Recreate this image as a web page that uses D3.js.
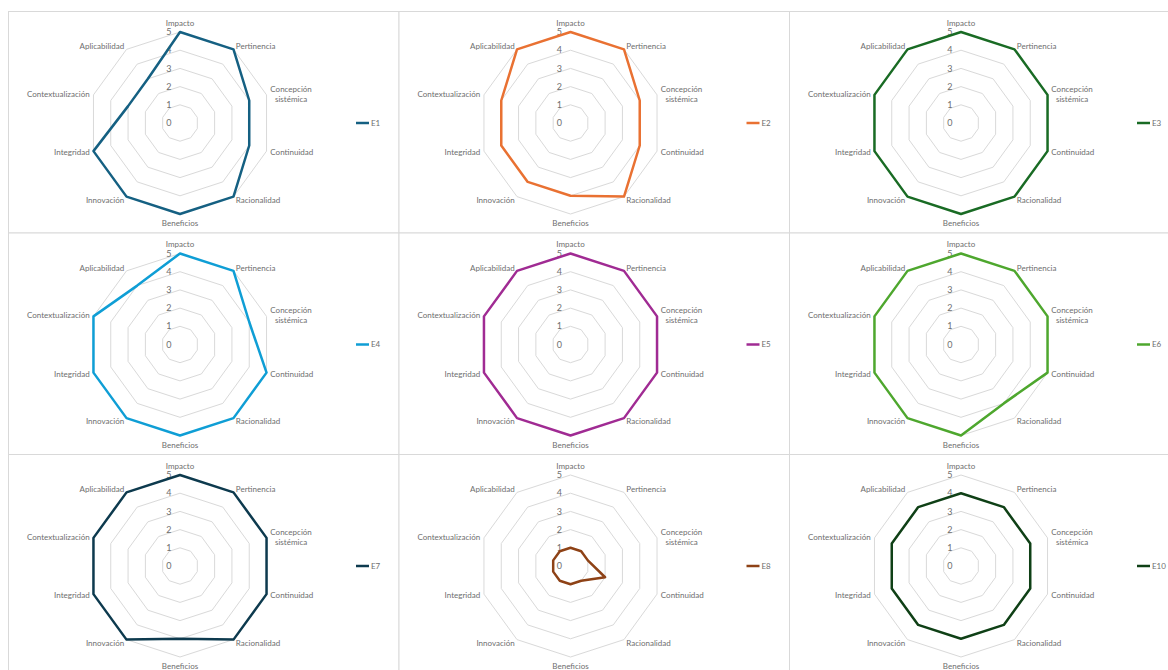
<!DOCTYPE html>
<html>
<head>
<meta charset="utf-8">
<script src="https://cdn.jsdelivr.net/npm/d3@7"></script>
<style>
  html, body { margin: 0; padding: 0; background: #ffffff; }
  svg { display: block; }
</style>
</head>
<body>
<svg id="chart" width="1168" height="670"></svg>
<script>
// Criteria, clockwise from the top
const categories = [
  "Impacto", "Pertinencia", "Concepción sistémica", "Continuidad", "Racionalidad",
  "Beneficios", "Innovación", "Integridad", "Contextualización", "Aplicabilidad"
];

// Scores per evaluator
const E1  = [5, 5, 4, 4, 5, 5, 5, 5, 3, 3];
const E2  = [5, 5, 4, 4, 5, 4, 4, 4, 4, 5];
const E3  = [5, 5, 5, 5, 5, 5, 5, 5, 5, 5];
const E4  = [5, 5, 4, 5, 5, 5, 5, 5, 5, 4];
const E5  = [5, 5, 5, 5, 5, 5, 5, 5, 5, 5];
const E6  = [5, 5, 5, 5, 4, 5, 5, 5, 5, 5];
const E7  = [5, 5, 5, 5, 5, 4, 5, 5, 5, 5];
const E8  = [1, 1, 1, 2, 1, 1, 1, 1, 1, 1];
const E10 = [4, 4, 4, 4, 4, 4, 4, 4, 4, 4];

const seriesNames  = ["E1", "E2", "E3", "E4", "E5", "E6", "E7", "E8", "E10"];
const seriesValues = [E1, E2, E3, E4, E5, E6, E7, E8, E10];
const seriesColors = ["#156082", "#E97132", "#196B24", "#0F9ED5", "#A02B93",
                      "#4EA72E", "#0D3A4E", "#8E4216", "#0F4016"];

const tickLabels = [0, 1, 2, 3, 4, 5];

// ---- layout ----
const svg = d3.select("#chart");
const FONT = "Lato, 'Open Sans', sans-serif";
const panelW = 390.5, panelH = 221.5, originX = 8, originY = 11;
const cOffX = 172, cOffY = 112;
const gridColor = "#d9d9d9";
const textColor = "#6e6e6e";

const r = d3.scaleLinear().domain([0, 5]).range([0, 91]);
const angle = d3.scaleLinear().domain([0, categories.length]).range([0, 2 * Math.PI]);

const radial = d3.lineRadial()
  .angle((d, i) => angle(i))
  .radius(d => r(d))
  .curve(d3.curveLinearClosed);

seriesNames.forEach((name, k) => {
  const col = k % 3, row = Math.floor(k / 3);
  const x0 = originX + col * panelW, y0 = originY + row * panelH;

  const panel = svg.append("g").attr("transform", `translate(${x0},${y0})`);

  panel.append("rect")
    .attr("x", 0.5).attr("y", 0.5)
    .attr("width", panelW).attr("height", panelH)
    .attr("fill", "#ffffff")
    .attr("stroke", gridColor).attr("stroke-width", 1);

  const g = panel.append("g").attr("transform", `translate(${cOffX},${cOffY})`);

  // concentric decagon rings
  tickLabels.filter(t => t > 0).forEach(t => {
    g.append("path")
      .attr("d", radial(categories.map(() => t)))
      .attr("fill", "none")
      .attr("stroke", gridColor)
      .attr("stroke-width", 1);
  });

  // value axis labels
  g.selectAll("text.tick")
    .data(tickLabels)
    .join("text")
    .attr("class", "tick")
    .attr("x", -8.5)
    .attr("y", d => -r(d))
    .attr("dy", "0.35em")
    .attr("text-anchor", "end")
    .attr("font-family", FONT)
    .attr("font-size", 9)
    .attr("fill", textColor)
    .text(d => d);

  // category labels
  const rLab = r(5) + 4;
  categories.forEach((c, i) => {
    const a = angle(i);
    const s = Math.sin(a), co = Math.cos(a);
    let x = rLab * s, y = -rLab * co;
    let anchor = Math.abs(s) < 0.1 ? "middle" : (s > 0 ? "start" : "end");
    const lines = c === "Concepción sistémica" ? ["Concepción", "sistémica"] : [c];
    const t = g.append("text")
      .attr("font-family", FONT)
      .attr("font-size", 8)
      .attr("fill", textColor);
    if (co > 0.9) y = -r(5) - 6.5;
    else if (co < -0.9) y = r(5) + 12.3;
    else y = y + 3 - (lines.length - 1) * 5;
    lines.forEach((ln, j) => {
      t.append("tspan").attr("x", 0).attr("y", y + j * 10).text(ln);
    });
    if (lines.length > 1) {
      // block placed beside the vertex, lines centred within it
      const w = t.node().getBBox().width;
      t.attr("text-anchor", "middle");
      t.selectAll("tspan").attr("x", anchor === "start" ? x + w / 2 : x - w / 2);
    } else {
      t.attr("text-anchor", anchor);
      t.selectAll("tspan").attr("x", x);
    }
  });

  // series polygon
  g.append("path")
    .attr("d", radial(seriesValues[k]))
    .attr("fill", "none")
    .attr("stroke", seriesColors[k])
    .attr("stroke-width", 2.5)
    .attr("stroke-linejoin", "round");

  // legend
  const lg = panel.append("g").attr("transform", `translate(348,${cOffY})`);
  lg.append("line")
    .attr("x1", 0).attr("x2", 13)
    .attr("stroke", seriesColors[k])
    .attr("stroke-width", 2.5);
  lg.append("text")
    .attr("x", 15).attr("dy", "0.35em")
    .attr("font-family", FONT)
    .attr("font-size", 8)
    .attr("fill", textColor)
    .text(name);
});
</script>
</body>
</html>
